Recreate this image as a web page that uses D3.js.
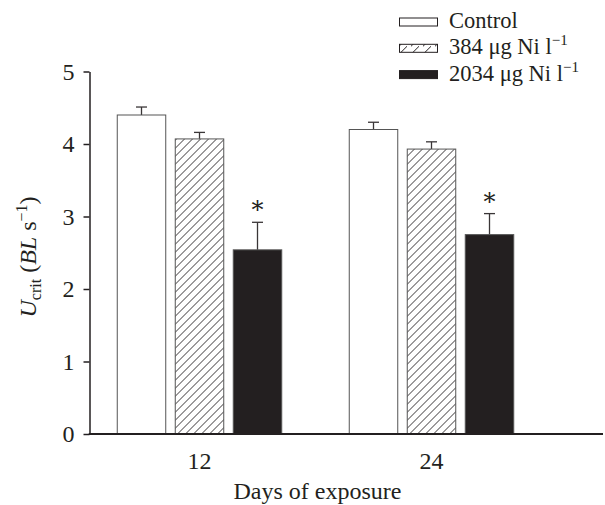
<!DOCTYPE html>
<html>
<head>
<meta charset="utf-8">
<script src="https://cdn.jsdelivr.net/npm/d3@7"></script>
<style>
  body { margin: 0; background: #fff; }
  svg text { font-family: "Liberation Serif", "Times New Roman", serif; fill: #231f20; }
</style>
</head>
<body>
<div id="visArea"></div>
<script>

// days of exposure (categories)
var days = ['12', '24'];

// series: mean Ucrit and SE
var seriesKeys = ['control', 'ni384', 'ni2034'];
var control = [4.40, 4.20];
var controlSE = [0.11, 0.10];
var ni384 = [4.07, 3.93];
var ni384SE = [0.09, 0.10];
var ni2034 = [2.54, 2.75];
var ni2034SE = [0.38, 0.29];
// significant difference marks
var signif = [[false, false, true], [false, false, true]];

var yTicks = [0, 1, 2, 3, 4, 5];

var SERIF = '"Liberation Serif", "Times New Roman", serif';


function makeVis(){
  var data = days.map(function(d, i){
    return {
      day: d,
      values: [
        { key: 'control', v: control[i], se: controlSE[i], star: signif[i][0] },
        { key: 'ni384', v: ni384[i], se: ni384SE[i], star: signif[i][1] },
        { key: 'ni2034', v: ni2034[i], se: ni2034SE[i], star: signif[i][2] }
      ]
    };
  });
  drawGraph(data);
}


function drawGraph(data){
  var w = 605, h = 505;
  var axisX = 89.5, axisY = 434;

  var svg = d3.select('#visArea')
              .append('svg')
              .attr('width', w)
              .attr('height', h)
              .attr('font-family', SERIF);

  var defs = svg.append('defs');
  var pat = defs.append('pattern')
    .attr('id', 'hatch')
    .attr('patternUnits', 'userSpaceOnUse')
    .attr('width', 8)
    .attr('height', 8);
  pat.append('rect').attr('width', 8).attr('height', 8).attr('fill', '#fff');
  pat.append('path')
    .attr('d', 'M-2,2 L2,-2 M0,8 L8,0 M6,10 L10,6')
    .attr('stroke', '#231f20')
    .attr('stroke-width', 0.9);

  var legPat = defs.append('pattern')
    .attr('id', 'hatchLeg')
    .attr('patternUnits', 'userSpaceOnUse')
    .attr('width', 12)
    .attr('height', 8);
  legPat.append('rect').attr('width', 12).attr('height', 8).attr('fill', '#fff');
  legPat.append('path')
    .attr('d', 'M0,8 L8,0')
    .attr('stroke', '#231f20')
    .attr('stroke-width', 1);

  var fills = { control: '#fff', ni384: 'url(#hatch)', ni2034: '#231f20' };

  var x0 = d3.scaleBand()
             .domain(days)
             .range([83.5, 547.5])
             .padding(0);

  var x1 = d3.scaleBand()
             .domain(seriesKeys)
             .range([0, x0.bandwidth()])
             .paddingInner(0.164)
             .paddingOuter(0.582);

  var y = d3.scaleLinear()
            .domain([0, 5])
            .range([axisY, 71.5]);

  // bars
  var groups = svg.append('g').attr('class', 'bars')
    .selectAll('g')
    .data(data)
    .enter()
    .append('g')
    .attr('transform', function(d){ return 'translate(' + x0(d.day) + ',0)'; });

  // error bars (upper only)
  groups.selectAll('line.err')
    .data(function(d){ return d.values; })
    .enter()
    .append('line')
    .attr('class', 'err')
    .attr('x1', function(d){ return x1(d.key) + x1.bandwidth()/2; })
    .attr('x2', function(d){ return x1(d.key) + x1.bandwidth()/2; })
    .attr('y1', function(d){ return y(d.v); })
    .attr('y2', function(d){ return y(d.v + d.se); })
    .style('stroke', '#3a3637')
    .style('stroke-width', 1.3);

  groups.selectAll('line.cap')
    .data(function(d){ return d.values; })
    .enter()
    .append('line')
    .attr('class', 'cap')
    .attr('x1', function(d){ return x1(d.key) + x1.bandwidth()/2 - 5.5; })
    .attr('x2', function(d){ return x1(d.key) + x1.bandwidth()/2 + 5.5; })
    .attr('y1', function(d){ return y(d.v + d.se); })
    .attr('y2', function(d){ return y(d.v + d.se); })
    .style('stroke', '#3a3637')
    .style('stroke-width', 1.3);

  groups.selectAll('rect')
    .data(function(d){ return d.values; })
    .enter()
    .append('rect')
    .attr('x', function(d){ return x1(d.key); })
    .attr('y', function(d){ return y(d.v); })
    .attr('width', x1.bandwidth())
    .attr('height', function(d){ return y(0) - y(d.v); })
    .attr('fill', function(d){ return fills[d.key]; })
    .style('stroke', '#555')
    .style('stroke-width', 1);

  groups.selectAll('text.star')
    .data(function(d){ return d.values.filter(function(v){ return v.star; }); })
    .enter()
    .append('text')
    .attr('class', 'star')
    .attr('x', function(d){ return x1(d.key) + x1.bandwidth()/2; })
    .attr('y', function(d){ return y(d.v + d.se) - 4; })
    .style('text-anchor', 'middle')
    .style('font-family', '"DejaVu Serif", serif')
    .style('font-size', '24px')
    .text('*');

  // y axis
  var yAxis = svg.append('g')
    .attr('transform', 'translate(' + axisX + ',0)')
    .call(d3.axisLeft(y).tickValues(yTicks).tickFormat(d3.format('d'))
            .tickSize(6).tickSizeOuter(0).tickPadding(9));
  yAxis.attr('font-family', SERIF);
  yAxis.select('.domain').style('stroke', '#231f20').style('stroke-width', 1.5);
  yAxis.selectAll('.tick line').style('stroke', '#231f20').style('stroke-width', 1.5);
  yAxis.selectAll('.tick text')
    .style('font-family', SERIF)
    .style('font-size', '24px')
    .style('fill', '#231f20');

  // x axis
  var xAxis = svg.append('g')
    .attr('transform', 'translate(0,' + axisY + ')')
    .call(d3.axisBottom(x0).tickSize(0).tickPadding(18));
  xAxis.attr('font-family', SERIF);
  xAxis.select('.domain').remove();
  xAxis.selectAll('.tick text')
    .style('font-family', SERIF)
    .style('font-size', '24px')
    .style('fill', '#231f20');
  svg.append('line')
    .attr('x1', axisX - 0.75).attr('x2', 603)
    .attr('y1', axisY).attr('y2', axisY)
    .style('stroke', '#231f20')
    .style('stroke-width', 2);

  // axis titles
  svg.append('text')
    .attr('x', (x0.range()[0] + x0.range()[1]) / 2 + 2)
    .attr('y', 499)
    .style('text-anchor', 'middle')
    .style('font-family', SERIF)
    .style('font-size', '24px')
    .text('Days of exposure');

  var yt = svg.append('text')
    .attr('transform', 'translate(36,257) rotate(-90)')
    .style('text-anchor', 'middle')
    .style('font-family', SERIF)
    .style('font-size', '24px');
  yt.append('tspan').style('font-style', 'italic').text('U');
  yt.append('tspan').attr('dy', 5).style('font-size', '16px').text('crit');
  yt.append('tspan').attr('dy', -5).text(' (');
  yt.append('tspan').style('font-style', 'italic').text('BL');
  yt.append('tspan').text(' s');
  yt.append('tspan').attr('dy', -9).style('font-size', '16px').text('\u22121');
  yt.append('tspan').attr('dy', 9).text(')');

  // legend
  var legItems = [
    { key: 'control', label: ['Control'] },
    { key: 'ni384', label: ['384 \u03bcg Ni l', '\u22121'] },
    { key: 'ni2034', label: ['2034 \u03bcg Ni l', '\u22121'] }
  ];
  var legFills = { control: '#fff', ni384: 'url(#hatchLeg)', ni2034: '#231f20' };
  var leg = svg.append('g').attr('class', 'legend')
    .selectAll('g')
    .data(legItems)
    .enter()
    .append('g')
    .attr('transform', function(d, i){ return 'translate(399,' + (28 + i*26.3) + ')'; });
  leg.append('rect')
    .attr('x', 0.5)
    .attr('y', -10)
    .attr('width', 38)
    .attr('height', 8)
    .attr('fill', function(d){ return legFills[d.key]; })
    .style('stroke', '#231f20')
    .style('stroke-width', 1);
  var lt = leg.append('text')
    .attr('x', 50)
    .attr('y', 0)
    .style('font-family', SERIF)
    .style('font-size', '22.5px');
  lt.append('tspan').text(function(d){ return d.label[0]; });
  lt.append('tspan')
    .attr('dy', -9)
    .style('font-size', '15px')
    .text(function(d){ return d.label[1] || ''; });
}

makeVis();
</script>
</body>
</html>
